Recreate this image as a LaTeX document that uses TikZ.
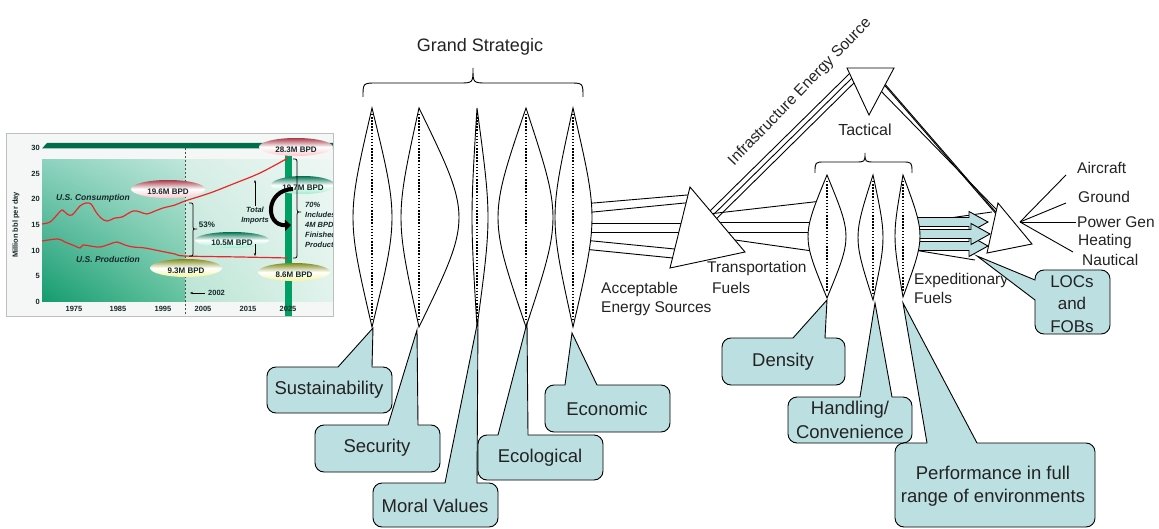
\documentclass[tikz,border=0pt]{standalone}
\usepackage{fontspec}
\setmainfont{Liberation Sans}
\usetikzlibrary{arrows.meta,shadings}
\definecolor{callfill}{RGB}{188,223,225}
\definecolor{chred}{RGB}{232,40,40}
\definecolor{bargreen}{RGB}{0,110,75}
\definecolor{vgreen}{RGB}{0,160,100}
\definecolor{txtgray}{RGB}{35,35,35}
\definecolor{pinkdark}{RGB}{170,60,75}
\definecolor{pinklight}{RGB}{252,200,205}
\definecolor{grdark}{RGB}{0,115,80}
\definecolor{grlight}{RGB}{160,235,205}
\definecolor{oldark}{RGB}{130,140,30}
\definecolor{ollight}{RGB}{245,245,160}
\definecolor{chtext}{RGB}{20,40,40}
\definecolor{chartbg}{RGB}{245,247,246}
\definecolor{plA}{RGB}{20,155,110}
\definecolor{plB}{RGB}{100,195,160}
\definecolor{plC}{RGB}{140,210,190}
\definecolor{plD}{RGB}{190,230,218}
\definecolor{plE}{RGB}{185,228,212}
\definecolor{plF}{RGB}{225,243,236}
\definecolor{plG}{RGB}{215,238,230}
\definecolor{plH}{RGB}{238,247,243}

% lens: cx, top y, bottom y, left bulge x, right bulge x
\newcommand{\mylens}[5]{%
  \path[lensline] (#1,#2) .. controls ({#1+(#4-#1)*4/3},{(#2+#3)/2}) .. (#1,#3)
     .. controls ({#1+(#5-#1)*4/3},{(#2+#3)/2}) .. cycle;
  \draw[dotline] (#1,#2+6) -- (#1,#3-6);}

% callout with pointer on top edge: x1,y1,x2,y2, base A x, base B x, tip x, tip y
\newcommand{\topcallout}[8]{%
  \path[callout] (#1,#2) rectangle (#3,#4);
  \fill[callfill] (#5+0.8,#2+1.4) -- (#5,#2) -- (#7,#8) -- (#6,#2) -- (#6-0.8,#2+1.4) -- cycle;
  \draw[calledge] (#5,#2) -- (#7,#8) -- (#6,#2);}

% block arrow: x start, y centre, x tip
\newcommand{\blockarrow}[3]{%
  \filldraw[barrow] (#1,#2-4.5) -- (#3-19,#2-4.5) -- (#3-19,#2-10.5) -- (#3,#2)
     -- (#3-19,#2+10.5) -- (#3-19,#2+4.5) -- (#1,#2+4.5) -- cycle;}

% brush label: x, y, half width, half height, dark, light, text, name
\newcommand{\brush}[8]{%
  \shade[top color=#5, bottom color=#6, middle color=white] (#1,#2) ellipse [x radius=#3pt, y radius=#4pt];
  \node[brushtext] (#8) at (#1,#2+3) {#7};}

\begin{document}
\begin{tikzpicture}[x=1pt,y=-1pt,
  lensline/.style={draw=black,line width=0.9pt,fill=white},
  dotline/.style={line width=1.6pt,dash pattern=on 1.5pt off 1.6pt},
  conn/.style={draw=black,line width=0.9pt},
  tri/.style={draw=black,line width=0.9pt,fill=white},
  callout/.style={draw=black,line width=0.9pt,fill=callfill,rounded corners=9pt},
  calledge/.style={draw=black,line width=0.9pt},
  ctext/.style={font=\fontsize{18.5}{23}\selectfont,text=txtgray,inner sep=0pt,align=center},
  ltext/.style={font=\fontsize{15.5}{19}\selectfont,text=txtgray,inner sep=0pt},
  barrow/.style={draw=black,line width=0.9pt,fill=callfill},
  axlab/.style={font=\fontsize{7.5}{9}\selectfont\bfseries,text=chtext,inner sep=0pt},
  brushtext/.style={font=\fontsize{8}{9}\selectfont\bfseries,text=chtext,inner sep=0pt},
  chital/.style={font=\fontsize{7.5}{10}\selectfont\bfseries\itshape,text=chtext,inner sep=0pt,align=left},
]
\useasboundingbox (0,0) rectangle (1159,529);
\fill[white] (0,0) rectangle (1159,529);

% ================= CHART =================
\begin{scope}
\clip (6,133) rectangle (333,316);
\fill[chartbg] (6,133) rectangle (333,316);
\shade[lower left=plA, lower right=plB, upper left=plC, upper right=plD] (42,160) rectangle (185,302);
\shade[lower left=plE, lower right=plF, upper left=plG, upper right=plH] (185,160) rectangle (333,302);
\fill[bargreen] (42,148.5) -- (47,143) -- (333,143) -- (333,148.5) -- cycle;
\fill[vgreen] (285,150) rectangle (292,316);
\draw[black!70,line width=0.6pt,dash pattern=on 2pt off 2pt] (185,148) -- (185,316);
% y labels
\foreach \v/\yy in {0/302,5/276.4,10/250.7,15/225,20/199.4,25/173.8,30/148.1}
  \node[axlab,anchor=east] (ylab\v) at (40,\yy) {\v};
\foreach \yr/\xx in {1975/74,1985/118,1995/163,2005/203,2015/248,2025/288}
  \node[axlab] (xlab\yr) at (\xx,309) {\yr};
\node[axlab,rotate=90] (ytitle) at (16,225) {Million bbl per day};
% consumption & production
\draw[chred,line width=1.2pt] plot[smooth,tension=0.55] coordinates {(42,224) (50,222) (57,215) (62,210) (67,214) (72,215) (80,206) (86,203) (91,204) (96,212) (101,218) (107,221) (115,218) (122,217) (133,211) (140,212) (147,214) (155,211) (163,208) (175,205) (185,201) (210,193) (233,184) (260,173) (288,158)};
\draw[chred,line width=1.2pt] plot[smooth,tension=0.55] coordinates {(42,241) (58,239) (65,242) (75,246) (80,248) (83,245) (90,246) (100,247) (110,244) (117,242) (125,245) (133,247) (145,248) (160,251) (175,254) (185,256) (240,257) (288,258)};
\node[font=\fontsize{8.5}{10}\selectfont\bfseries\itshape,text=chtext,inner sep=0pt] (cons) at (93,198) {U.S. Consumption};
\node[font=\fontsize{8.5}{10}\selectfont\bfseries\itshape,text=chtext,inner sep=0pt] (prod) at (108,259) {U.S. Production};
% brushes
\brush{168}{189}{37}{9}{pinkdark}{pinklight}{19.6M BPD}{b196}
\brush{296}{147}{37}{9}{pinkdark}{pinklight}{28.3M BPD}{b283}
\brush{303}{185}{32}{9}{grdark}{grlight}{19.7M BPD}{b197}
\brush{232}{240}{37}{8}{grdark}{grlight}{10.5M BPD}{b105}
\brush{186}{268}{36}{9}{oldark}{ollight}{9.3M BPD}{b93}
\brush{294}{272}{36}{9}{oldark}{ollight}{8.6M BPD}{b86}
% braces and annotations
\draw[line width=0.8pt] (189,203) .. controls (193,203) .. (193,207) -- (193,225) .. controls (193,229) .. (197,229) .. controls (193,229) .. (193,233) -- (193,252) .. controls (193,256) .. (189,256);
\draw[line width=0.8pt] (293,159) .. controls (297,159) .. (297,164) -- (297,207) .. controls (297,212) .. (301,212) .. controls (297,212) .. (297,217) -- (297,253) .. controls (297,258) .. (293,258);
\node[font=\fontsize{8}{10}\selectfont\bfseries,text=chtext,inner sep=0pt] (p53) at (207,225) {53\%};
\node[chital,align=center] (timp) at (255,216) {Total\\Imports};
\draw[-{Stealth[length=3pt]},line width=0.5pt] (255,206) -- (255,180);
\draw[-{Stealth[length=3pt]},line width=0.5pt] (255,244) -- (255,256);
\node[chital,anchor=north west] (p70) at (305,202) {70\%\\Includes\\4M BPD\\Finished\\Products};
\draw[line width=4pt,-{Triangle[length=6pt,width=11pt]}] (293,189) .. controls (265,190) and (265,226) .. (291,225);
\node[axlab,anchor=west] (y2002) at (208,293) {2002};
\draw[-{Stealth[length=3pt]},line width=0.5pt] (205,293) -- (190,293);
\end{scope}
\draw[black!25,line width=0.8pt] (6,133) rectangle (333,316);

% ================= CONNECTORS =================
% lens 5 -> transportation triangle
\draw[conn] (583,203.9) -- (693,194.5);
\draw[conn] (583,213) -- (695,202);
\draw[conn] (583,223) -- (700,223);
\draw[conn] (583,232) -- (700,232);
\draw[conn] (583,240) -- (690,250.5);
\draw[conn] (583,249) -- (688,259.5);
% transportation triangle -> infrastructure triangle
\draw[conn] (699.8,221) -- (851.6,71.5);
\draw[conn] (703.3,224.6) -- (855,75);
\draw[conn] (706.8,228.2) -- (861,76);
% transportation triangle -> tactical lens
\draw[conn] (700,215) -- (822,201);
\draw[conn] (700,222) -- (822,222);
\draw[conn] (700,232) -- (822,232);
\draw[conn] (700,235) -- (822,252.4);
% infrastructure -> final triangle
\draw[conn] (880,80) -- (997,215);
\draw[conn] (884,83) -- (1001,218);
\draw[conn] (878,88) -- (1029,243);
% T3 -> final triangle thin lines
\draw[conn] (914,223) -- (992,212);
\draw[conn] (914,250) -- (975,260);
% fan
\coordinate (fan) at (1020,222);
\draw[conn] (fan) -- (1066,175);
\draw[conn] (fan) -- (1066,203);
\draw[conn] (fan) -- (1076,222);
\draw[conn] (fan) -- (1073,252);

% ================= LENSES =================
\mylens{372}{108}{327}{353}{392}
\mylens{419}{108}{327}{401}{459}
\mylens{477}{108}{327}{472}{488}
\mylens{526}{108}{327}{498}{553}
\mylens{573}{108}{327}{555}{592}

% braces
\draw[conn] (363,97) .. controls (363,83) .. (377,83) -- (459,83) .. controls (473,83) .. (473,68) .. controls (473,83) .. (487,83) -- (569,83) .. controls (583,83) .. (583,97);
\draw[conn] (815,173) .. controls (815,162) .. (825,162) -- (855,162) .. controls (865,162) .. (865,153) .. controls (865,162) .. (875,162) -- (902,162) .. controls (912,162) .. (912,173);

% triangles
\path[tri] (690,187) -- (745,252) -- (670,268) -- cycle;
\path[tri] (847,68) -- (894,68) -- (869,115) -- cycle;
\path[tri] (998,203) -- (1032,244) -- (987,253) -- cycle;

% tactical lenses
\mylens{827}{175}{298}{808}{846}
\mylens{873}{175}{300}{858}{883}
\blockarrow{912}{222}{988}
\blockarrow{912}{246}{988}
\blockarrow{912}{234}{990}
\mylens{903}{175}{297}{895}{920}

% ================= LABELS =================
\node[font=\fontsize{18}{22}\selectfont,text=txtgray,inner sep=0pt] (gs) at (480,47) {Grand Strategic};
\node[font=\fontsize{16}{19}\selectfont,text=txtgray,inner sep=0pt] (tac) at (865,130) {Tactical};
\node[ltext,rotate=46] (infra) at (800,92) {Infrastructure Energy Source};
\node[ltext,anchor=west,align=left] (accept) at (601,298.5) {Acceptable\\Energy Sources};
\node[ltext,anchor=west] (transp) at (707,268) {Transportation};
\node[ltext,anchor=west] (transf) at (712,288) {Fuels};
\node[ltext,anchor=west] (expd) at (914,280) {Expeditionary};
\node[ltext,anchor=west] (expf) at (914,298) {Fuels};
\node[ltext,anchor=west] (air) at (1077,168) {Aircraft};
\node[ltext,anchor=west] (gnd) at (1078,197) {Ground};
\node[ltext,anchor=west] (pwr) at (1077,222) {Power Gen};
\node[ltext,anchor=west] (heat) at (1078,241) {Heating};
\node[ltext,anchor=west] (naut) at (1082,260) {Nautical};

% ================= CALLOUTS =================
\topcallout{315}{425}{440}{472}{388}{418}{417}{330}
\node[ctext] (c2) at (377,448) {Security};
\topcallout{267}{367}{392}{413}{338}{372}{373}{328}
\node[ctext] (c1) at (329,390) {Sustainability};
\topcallout{373}{483}{498}{527}{445}{477}{478}{320}
\node[ctext] (c3) at (435,506) {Moral Values};
\topcallout{545}{385}{670}{432}{565}{597}{572}{333}
\node[ctext] (c5) at (607,409) {Economic};
\topcallout{478}{435}{603}{480}{498}{528}{527}{323}
\node[ctext] (c4) at (540,458) {Ecological};
\topcallout{722}{338}{845}{385}{793}{825}{827}{300}
\node[ctext] (t1) at (783,362) {Density};
\topcallout{788}{397}{912}{443}{860}{892}{875}{303}
\node[ctext,font=\fontsize{18.5}{24}\selectfont] (t2) at (850,420) {Handling/\\Convenience};
\topcallout{895}{443}{1095}{527}{927}{977}{903}{303}
\node[ctext] (t3) at (993,486) {Performance in full\\range of environments};
% LOCs and FOBs (pointer on left edge)
\path[callout] (1035,270) rectangle (1110,334);
\fill[callfill] (1036.4,281.5) -- (1035,280) -- (977,256) -- (1035,300) -- (1036.4,299) -- cycle;
\draw[calledge] (1035,280) -- (977,256) -- (1035,300);
\node[ctext,font=\fontsize{17}{22.5}\selectfont] (locs) at (1072,304) {LOCs\\and\\FOBs};
\end{tikzpicture}
\end{document}
